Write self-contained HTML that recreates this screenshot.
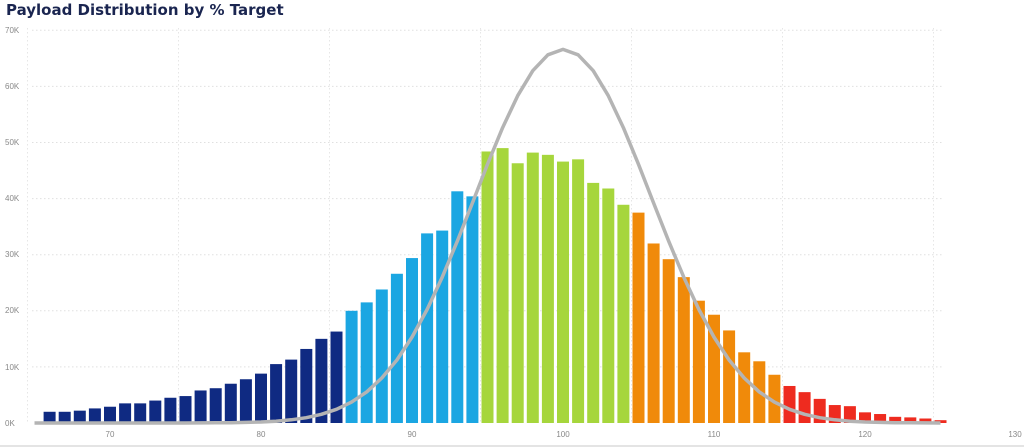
<!DOCTYPE html>
<html><head><meta charset="utf-8"><style>
html,body{margin:0;padding:0;background:#fff;}
body{width:1024px;height:448px;overflow:hidden;position:relative;font-family:"Liberation Sans",sans-serif;}
.t{position:absolute;left:6px;top:1px;font-size:15px;font-weight:bold;color:#1a2550;font-family:"DejaVu Sans","Liberation Sans",sans-serif;}
</style></head><body>
<div class="t">Payload Distribution by % Target</div>
<svg id="s" width="1024" height="448" style="position:absolute;left:0;top:0">
<g font-size="8" fill="#888" font-family="Liberation Sans, sans-serif">
<text x="5" y="33">70K</text><text x="5" y="89">60K</text><text x="5" y="145">50K</text>
<text x="5" y="201">40K</text><text x="5" y="257">30K</text><text x="5" y="313">20K</text>
<text x="5" y="370">10K</text><text x="5" y="426">0K</text>
<text x="110" y="437" text-anchor="middle">70</text><text x="261" y="437" text-anchor="middle">80</text>
<text x="412" y="437" text-anchor="middle">90</text><text x="563" y="437" text-anchor="middle">100</text>
<text x="714" y="437" text-anchor="middle">110</text><text x="865" y="437" text-anchor="middle">120</text>
<text x="1015" y="437" text-anchor="middle">130</text>
</g>
<line x1="0" y1="446" x2="1024" y2="446" stroke="#e4e4e4" stroke-width="2"/>
</svg>
<script>
var s=document.getElementById('s'),NS='http://www.w3.org/2000/svg';
function el(n,a){var e=document.createElementNS(NS,n);for(var k in a)e.setAttribute(k,a[k]);s.appendChild(e);return e;}
function X(v){return 110+(v-70)*15.1;}function Y(k){return 423-k*5.61;}
for(var i=1;i<=7;i++)el('line',{x1:32,x2:942,y1:Y(i*10),y2:Y(i*10),stroke:'#e0e0e0','stroke-dasharray':'1.5,2.5'});
for(var v=65;v<=125;v+=10)el('line',{x1:X(v)-7,x2:X(v)-7,y1:28,y2:423,stroke:'#e6e6e6','stroke-dasharray':'1.5,2.5'});
var d=[2.0,2.0,2.2,2.6,2.9,3.5,3.5,4.0,4.5,4.8,5.8,6.2,7.0,7.8,8.8,10.5,11.3,13.2,15.0,16.3,
20,21.5,23.8,26.6,29.4,33.8,34.3,41.3,40.4,
48.4,49,46.3,48.2,47.8,46.6,47,42.8,41.8,38.9,
37.5,32,29.2,26,21.8,19.3,16.5,12.6,11,8.6,
6.6,5.5,4.3,3.2,3.0,1.9,1.6,1.1,1.0,0.8,0.5];
for(var j=0;j<d.length;j++){var v=66+j;var c=v<=85?'#0f2a82':v<=94?'#1ba6e2':v<=104?'#a6d63c':v<=114?'#f08a0a':'#ee2b1f';
el('rect',{x:X(v)-6,y:Y(d[j]),width:12,height:423-Y(d[j]),fill:c});}
var p='';for(var v=65;v<=125.5;v+=1){var k=66.6*Math.exp(-Math.pow(v-100,2)/(2*34));p+=(p?'L':'M')+X(v).toFixed(1)+','+Y(k).toFixed(1);}
el('path',{d:p,fill:'none',stroke:'#b4b4b4','stroke-width':3.5,'stroke-linejoin':'round'});
</script>
</body></html>
